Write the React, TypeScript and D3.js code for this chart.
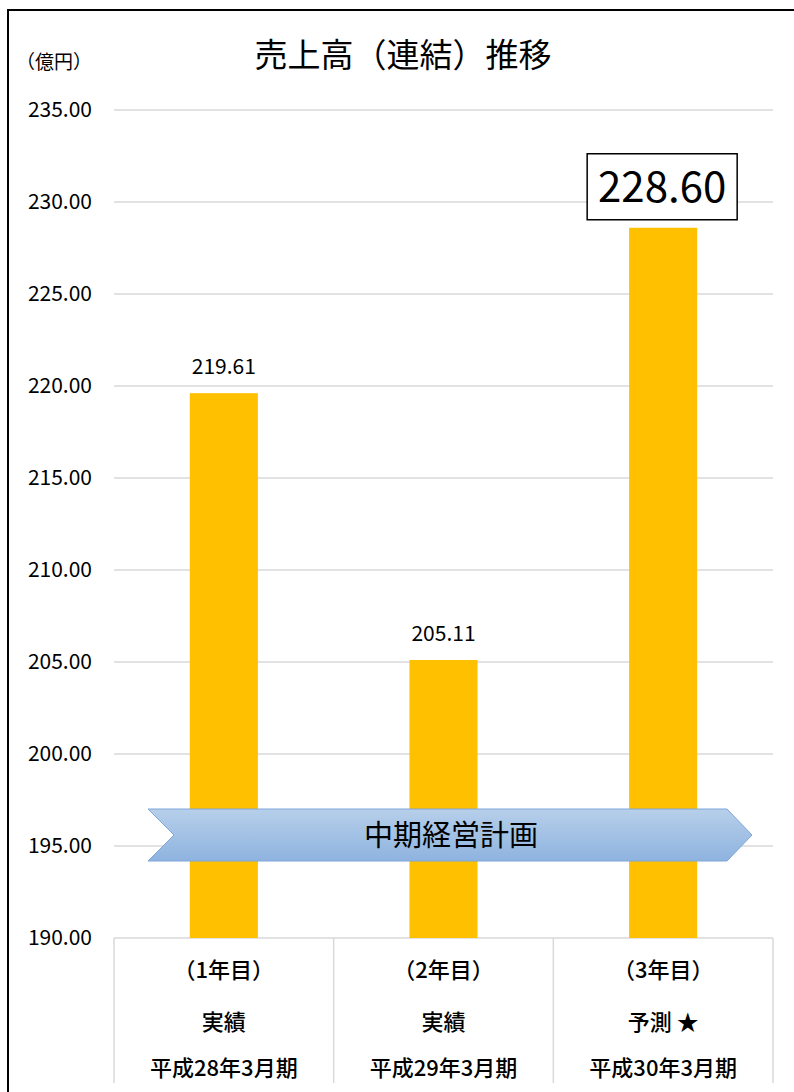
import * as d3 from "d3";
import { useEffect, useRef } from "react";

const yearLabels = ["（1年目）", "（2年目）", "（3年目）"];
const kindLabels = ["実績", "実績", "予測 ★"];
const periodLabels = ["平成28年3月期", "平成29年3月期", "平成30年3月期"];
const sales = [219.61, 205.11, 228.6];
const yTicks = [190, 195, 200, 205, 210, 215, 220, 225, 230, 235];

const W = 794;
const H = 1092;
const JP = "'Noto Sans CJK JP', 'Noto Sans', sans-serif";

export default function App() {
  const ref = useRef<SVGSVGElement>(null);

  useEffect(() => {
    const svg = d3.select(ref.current);
    svg.selectAll("*").remove();

    const left = 114;
    const right = 773;
    const top = 110;
    const bottom = 938;

    const x = d3.scaleBand<number>()
      .domain(d3.range(sales.length))
      .range([left, right])
      .paddingInner(0.69)
      .paddingOuter(0.345);

    const y = d3.scaleLinear().domain([190, 235]).range([bottom, top]);

    // frame
    svg.append("rect")
      .attr("x", 8)
      .attr("y", 10)
      .attr("width", W + 20)
      .attr("height", H + 20)
      .attr("fill", "white")
      .attr("stroke", "#000")
      .attr("stroke-width", 2);

    // grid
    svg.append("g")
      .selectAll("line")
      .data(yTicks)
      .join("line")
      .attr("x1", left)
      .attr("x2", right)
      .attr("y1", (d) => y(d))
      .attr("y2", (d) => y(d))
      .attr("stroke", "#d9d9d9")
      .attr("stroke-width", 1.5);

    svg.append("g")
      .selectAll("text")
      .data(yTicks)
      .join("text")
      .attr("x", 92)
      .attr("y", (d) => y(d) + 7)
      .attr("text-anchor", "end")
      .style("font-family", JP)
      .style("font-size", "21px")
      .style("fill", "#000")
      .text((d) => d.toFixed(2));

    // bars
    svg.append("g")
      .selectAll("rect")
      .data(sales)
      .join("rect")
      .attr("x", (_, i) => x(i)!)
      .attr("y", (d) => y(d))
      .attr("width", x.bandwidth())
      .attr("height", (d) => bottom - y(d))
      .attr("fill", "#FFC000");

    // value labels for first two
    svg.append("g")
      .selectAll("text")
      .data(sales.slice(0, 2))
      .join("text")
      .attr("x", (_, i) => x(i)! + x.bandwidth() / 2)
      .attr("y", (d) => y(d) - 19)
      .attr("text-anchor", "middle")
      .style("font-family", JP)
      .style("font-size", "21px")
      .text((d) => d.toFixed(2));

    // boxed label for forecast
    const last = sales.length - 1;
    const cx = x(last)! + x.bandwidth() / 2;
    svg.append("rect")
      .attr("x", cx - 76)
      .attr("y", y(sales[last]) - 74)
      .attr("width", 150)
      .attr("height", 66)
      .attr("fill", "white")
      .attr("stroke", "#000")
      .attr("stroke-width", 1.5);
    svg.append("text")
      .attr("x", cx - 1)
      .attr("y", y(sales[last]) - 26)
      .attr("text-anchor", "middle")
      .style("font-family", JP)
      .style("font-size", "42px")
      .text(sales[last].toFixed(2));

    // category table
    const bounds = d3.range(sales.length + 1).map((i) => left + (i * (right - left)) / sales.length);
    svg.append("g")
      .selectAll("line")
      .data(bounds)
      .join("line")
      .attr("x1", (d) => d)
      .attr("x2", (d) => d)
      .attr("y1", bottom)
      .attr("y2", 1083)
      .attr("stroke", "#d9d9d9")
      .attr("stroke-width", 1.5);

    const rows = [
      { labels: yearLabels, y: 978 },
      { labels: kindLabels, y: 1030 },
      { labels: periodLabels, y: 1076 },
    ];
    rows.forEach((row) => {
      svg.append("g")
        .selectAll("text")
        .data(row.labels)
        .join("text")
        .attr("x", (_, i) => x(i)! + x.bandwidth() / 2)
        .attr("y", row.y)
        .attr("text-anchor", "middle")
        .style("font-family", JP)
        .style("font-size", "22px")
        .style("font-weight", "500")
        .text((d) => d);
    });

    // banner arrow
    const defs = svg.append("defs");
    const grad = defs.append("linearGradient")
      .attr("id", "band")
      .attr("x1", 0).attr("y1", 0).attr("x2", 0).attr("y2", 1);
    grad.append("stop").attr("offset", "0%").attr("stop-color", "#b7cfea");
    grad.append("stop").attr("offset", "100%").attr("stop-color", "#8eb3df");

    const aTop = 809;
    const aBot = 861;
    const aMid = (aTop + aBot) / 2;
    svg.append("path")
      .attr("d", `M148,${aTop} L727,${aTop} L752,${aMid} L727,${aBot} L148,${aBot} L174,${aMid} Z`)
      .attr("fill", "url(#band)")
      .attr("stroke", "#7ea6d8")
      .attr("stroke-width", 1);
    svg.append("text")
      .attr("x", 451)
      .attr("y", aMid + 11)
      .attr("text-anchor", "middle")
      .style("font-family", JP)
      .style("font-size", "29px")
      .text("中期経営計画");

    // titles
    svg.append("text")
      .attr("x", 403)
      .attr("y", 67)
      .attr("text-anchor", "middle")
      .style("font-family", JP)
      .style("font-size", "33px")
      .text("売上高（連結）推移");

    svg.append("text")
      .attr("x", 16)
      .attr("y", 69)
      .style("font-family", JP)
      .style("font-size", "19px")
      .text("（億円）");
  }, []);

  return (
    <svg
      ref={ref}
      width={W}
      height={H}
      style={{ position: "absolute", left: 0, top: 0, display: "block" }}
    />
  );
}
